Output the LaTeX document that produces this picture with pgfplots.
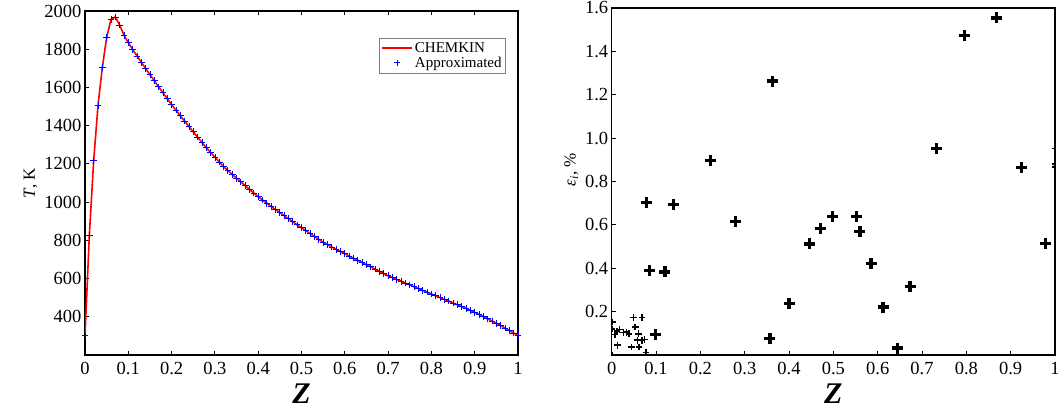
\documentclass[border=0pt]{standalone}
\usepackage{fontspec}
\setmainfont{Liberation Serif}
\usepackage{pgfplots}
\usepackage{pgfplotstable}
\pgfplotsset{compat=1.18}

\pgfplotstableread{
Z T
0.00 300
0.01 826
0.02 1216
0.03 1505
0.04 1705
0.05 1860
0.06 1957
0.07 1969
0.08 1927
0.09 1873
0.10 1834
0.11 1799
0.12 1765
0.13 1732
0.14 1699
0.15 1667
0.16 1635
0.17 1603
0.18 1572
0.19 1541
0.20 1510
0.21 1481
0.22 1452
0.23 1424
0.24 1396
0.25 1368
0.26 1340
0.27 1312
0.28 1285
0.29 1260
0.30 1235
0.31 1210
0.32 1186
0.33 1165
0.34 1145
0.35 1125
0.36 1106
0.37 1086
0.38 1066
0.39 1047
0.40 1028
0.41 1011
0.42 994
0.43 977
0.44 961
0.45 945
0.46 929
0.47 913
0.48 897
0.49 881
0.50 866
0.51 851
0.52 835
0.53 820
0.54 805
0.55 790
0.56 777
0.57 765
0.58 753
0.59 741
0.60 730
0.61 718
0.62 707
0.63 695
0.64 684
0.65 672
0.66 661
0.67 649
0.68 638
0.69 626
0.70 615
0.71 605
0.72 595
0.73 586
0.74 576
0.75 567
0.76 557
0.77 548
0.78 538
0.79 529
0.80 519
0.81 510
0.82 500
0.83 491
0.84 482
0.85 472
0.86 463
0.87 453
0.88 444
0.89 433
0.90 423
0.91 412
0.92 401
0.93 389
0.94 378
0.95 366
0.96 354
0.97 341
0.98 328
0.99 315
1.00 302
}\Tdata

\pgfplotstableread{
x y
0.079 0.703
0.139 0.693
0.222 0.897
0.280 0.616
0.362 1.263
0.357 0.077
0.400 0.236
0.447 0.512
0.471 0.585
0.498 0.639
0.553 0.637
0.560 0.570
0.585 0.423
0.612 0.221
0.644 0.032
0.673 0.317
0.733 0.953
0.795 1.474
0.868 1.554
0.925 0.866
0.979 0.515
0.086 0.389
0.120 0.383
0.098 0.095
}\bigpts

\pgfplotstableread{
x y
0.000 0.000
0.002 0.153
0.001 0.120
0.0075 0.095
0.012 0.110
0.013 0.045
0.018 0.117
0.027 0.103
0.033 0.105
0.039 0.098
0.049 0.172
0.068 0.172
0.053 0.130
0.060 0.098
0.058 0.068
0.068 0.068
0.074 0.072
0.045 0.037
0.062 0.037
0.077 0.011
1.000 0.953
1.000 0.880
1.000 0.866
}\smallpts

\pgfplotsset{
  myaxis/.style={
    scale only axis,
    anchor=south west,
    axis line style={line width=1.2pt, black},
    tick style={line width=1pt, black},
    major tick length=4pt,
    tick align=inside,
    xmin=0, xmax=1,
    xtick={0,0.1,0.2,0.3,0.4,0.5,0.6,0.7,0.8,0.9,1},
    xticklabels={0,0.1,0.2,0.3,0.4,0.5,0.6,0.7,0.8,0.9,1},
    ticklabel style={font=\fontsize{18.5}{18.5}\selectfont},
    xticklabel style={yshift=-4pt},
    /pgf/number format/assume math mode=true,
    /pgf/number format/1000 sep={},
    xlabel={\textbf{\textit{Z}}},
    xlabel style={font=\fontsize{30}{30}\selectfont, yshift=-2pt},
    ylabel style={font=\fontsize{17}{17}\selectfont},
    ytick pos=left,
  },
  leglinewide/.style={legend image code/.code={\draw[##1] (0pt,0pt) -- (30pt,0pt);}},
  legmarkwide/.style={legend image code/.code={\draw[mark repeat=2, mark phase=2, ##1] plot coordinates {(0pt,0pt) (15pt,0pt) (30pt,0pt)};}},
}

\begin{document}
\begin{tikzpicture}
\path[use as bounding box] (0pt,0pt) rectangle (1058pt,416pt);
\begin{axis}[myaxis,
  at={(85pt,61pt)}, width=433pt, height=344pt,
  xtick pos=both, xticklabel pos=lower,
  ymin=200, ymax=2000,
  ytick={400,600,800,1000,1200,1400,1600,1800,2000},
  ylabel={\textit{T}, K},
  legend style={at={(rel axis cs:0.972,0.921)}, anchor=north east,
    draw=gray, line width=0.6pt, font=\fontsize{15}{15}\selectfont,
    cells={anchor=west}, inner sep=2pt, row sep=-1pt},
]
\addplot[red, line width=1.6pt, no markers, leglinewide]
  table[x=Z, y=T] {\Tdata};
\addlegendentry{CHEMKIN}
\addplot[only marks, mark=+, mark size=3.3pt, blue, line width=0.8pt, legmarkwide]
  table[x=Z, y=T] {\Tdata};
\addlegendentry{Approximated}
\end{axis}

\begin{axis}[myaxis,
  at={(611.7pt,61pt)}, width=443.3pt, height=347pt,
  xtick pos=bottom,
  ymin=0, ymax=1.6,
  ytick={0.2,0.4,0.6,0.8,1.0,1.2,1.4,1.6},
  yticklabel style={/pgf/number format/fixed, /pgf/number format/fixed zerofill, /pgf/number format/precision=1},
  ylabel={\textit{ε}\textsubscript{\textit{i}}, \%},
  ylabel style={xshift=12pt},
  clip marker paths=true,
]
\addplot[only marks, mark=+, mark size=5.5pt, black, line width=3.2pt]
  table[x=x, y=y] {\bigpts};
\addplot[only marks, mark=+, mark size=3.3pt, black, line width=1.6pt]
  table[x=x, y=y] {\smallpts};
\end{axis}
\end{tikzpicture}
\end{document}
